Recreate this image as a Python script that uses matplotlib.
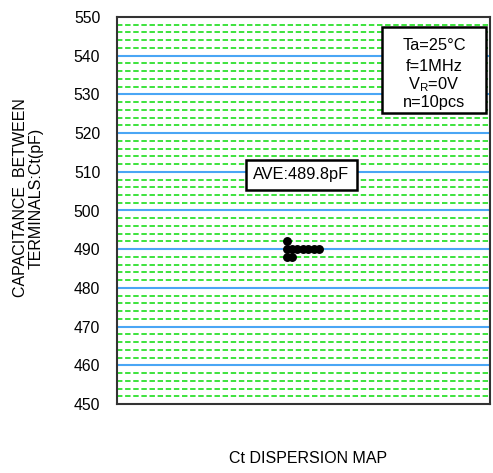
import matplotlib
matplotlib.use('Agg')
from matplotlib import pyplot as plt
from matplotlib.patches import Rectangle
import numpy as np

plt.rcParams['font.family'] = ['Liberation Sans', 'DejaVu Sans']

# измеренные значения емкости, pF
ct_values = [492, 490, 490, 490, 490, 490, 490, 490, 488, 488]
ave_label = 'AVE:489.8pF'
cond_lines = ['Ta=25°C', 'f=1MHz', r'V$_\mathregular{R}$=0V', 'n=10pcs']
y_ticks = [450, 460, 470, 480, 490, 500, 510, 520, 530, 540, 550]

W, H = 493, 473
AX_L, AX_R, AX_T, AX_B = 117, 490, 17, 404

fig = plt.figure(figsize=(W / 100, H / 100), dpi=100)
ax = fig.add_axes([AX_L / W, 1 - AX_B / H, (AX_R - AX_L) / W, (AX_B - AX_T) / H])

ax.set_xlim(0, 1)
ax.set_ylim(450, 550)


def py2y(py):
    # пиксель -> значение по оси y
    return 550 - (py - AX_T) / (AX_B - AX_T) * 100


def px2x(px):
    return (px - AX_L) / (AX_R - AX_L)


# сетка
for y in np.arange(452, 550, 2):
    if y % 10 == 0:
        ax.axhline(y, color='#4aa6f5', lw=1.5, zorder=1)
    else:
        ax.axhline(y, color='#2ee02e', lw=1.3, ls=(0, (3, 1.5)), zorder=1)

# точки: одинаковые значения ставим в ряд
x0 = px2x(286.5)
dx = 5.4 / (AX_R - AX_L)
seen = {}
xs, ys = [], []
for v in ct_values:
    k = seen.get(v, 0)
    seen[v] = k + 1
    xs.append(x0 + k * dx)
    ys.append(v)
ax.plot(xs, ys, 'o', color='black', ms=5.4, zorder=3)

ax.text(px2x(253), py2y(175), ave_label, ha='left', va='center', fontsize=11.8,
        bbox=dict(boxstyle='square,pad=0.45', fc='white', ec='black', lw=1.8), zorder=4)

# рамка с условиями
ax.add_patch(Rectangle((px2x(382), py2y(113)), px2x(486) - px2x(382), py2y(27) - py2y(113),
                       fc='white', ec='black', lw=1.8, zorder=4))
for txt, base in zip(cond_lines, [50, 71, 89, 107]):
    ax.text(px2x(434), py2y(base), txt, ha='center', va='baseline', fontsize=11.8, zorder=5)

ax.set_xticks([])
ax.set_yticks(y_ticks)
ax.tick_params(axis='y', length=0, labelsize=11.3, pad=12)
for s in ax.spines.values():
    s.set_color('#333333')
    s.set_linewidth(1.5)
    s.set_zorder(6)

fig.text(28 / W, 1 - 198 / H, 'CAPACITANCE  BETWEEN\nTERMINALS:Ct(pF)', rotation=90,
         ha='center', va='center', fontsize=11.5, linespacing=1.05)
fig.text(308 / W, 1 - 458 / H, 'Ct DISPERSION MAP', ha='center', va='center', fontsize=11.5)

fig.savefig('out.png', dpi=100)
